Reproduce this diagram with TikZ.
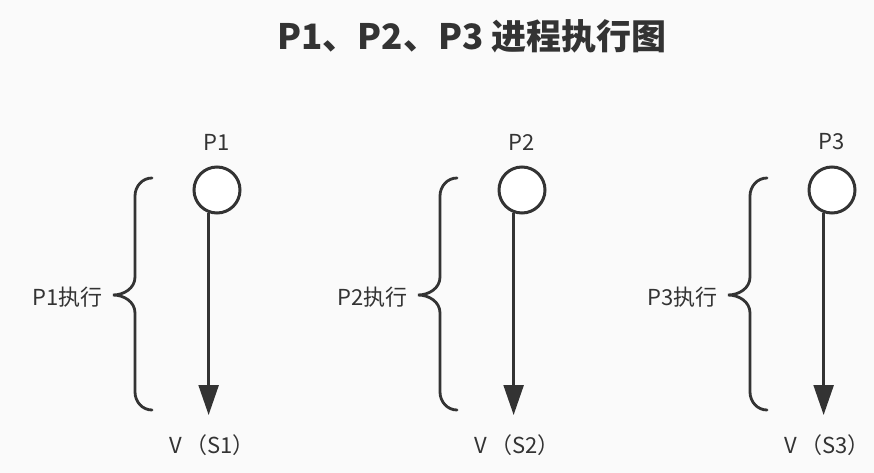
\documentclass[tikz,border=0pt]{standalone}
\usepackage{fontspec}
\setmainfont{Noto Sans CJK SC}
\usetikzlibrary{arrows.meta}
\definecolor{ink}{HTML}{333333}
\definecolor{bg}{HTML}{FAFAFA}
\tikzset{
  proc/.style={circle,draw=ink,line width=3pt,fill=white,minimum size=46pt,inner sep=0pt},
  lbl/.style={text=ink,font=\fontsize{22}{26}\selectfont,inner sep=0pt},
  flow/.style={draw=ink,line width=2.4pt,-{Triangle[width=20pt,length=30pt]}},
  brace/.style={draw=ink,line width=2.8pt,line cap=round}
}
\begin{document}
\begin{tikzpicture}[x=1pt,y=-1pt]
\fill[bg] (0,0) rectangle (874,473);
\useasboundingbox (0,0) rectangle (874,473);
\node[text=ink,font=\fontsize{35}{40}\selectfont\bfseries] (title) at (472,36) {P1、P2、P3 进程执行图};
\foreach \i/\L in {1/209,2/514,3/824}{
  \node[proc] (c\i) at (\L+8,190) {};
  \node[lbl] (p\i) at (\L+8,142) {P\i};
  \node[lbl] (s\i) at (\L+3,445) {V\,（S\i）};
  \coordinate (t\i) at (\L,415);
  \draw[flow] (c\i.-110) -- (c\i.-110 |- t\i);
  \coordinate (bt\i) at (\L-57,178);
  \coordinate (bm\i) at (\L-96,295);
  \coordinate (bb\i) at (\L-57,410);
  \draw[brace] (bt\i) to[out=180,in=90] (\L-74,196) -- (\L-74,277)
     to[out=-90,in=0] (bm\i) to[out=0,in=90] (\L-74,313) -- (\L-74,392)
     to[out=-90,in=180] (bb\i);
  \node[lbl,anchor=east] (e\i) at (\L-106,297) {P\i 执行};
}
\end{tikzpicture}
\end{document}
